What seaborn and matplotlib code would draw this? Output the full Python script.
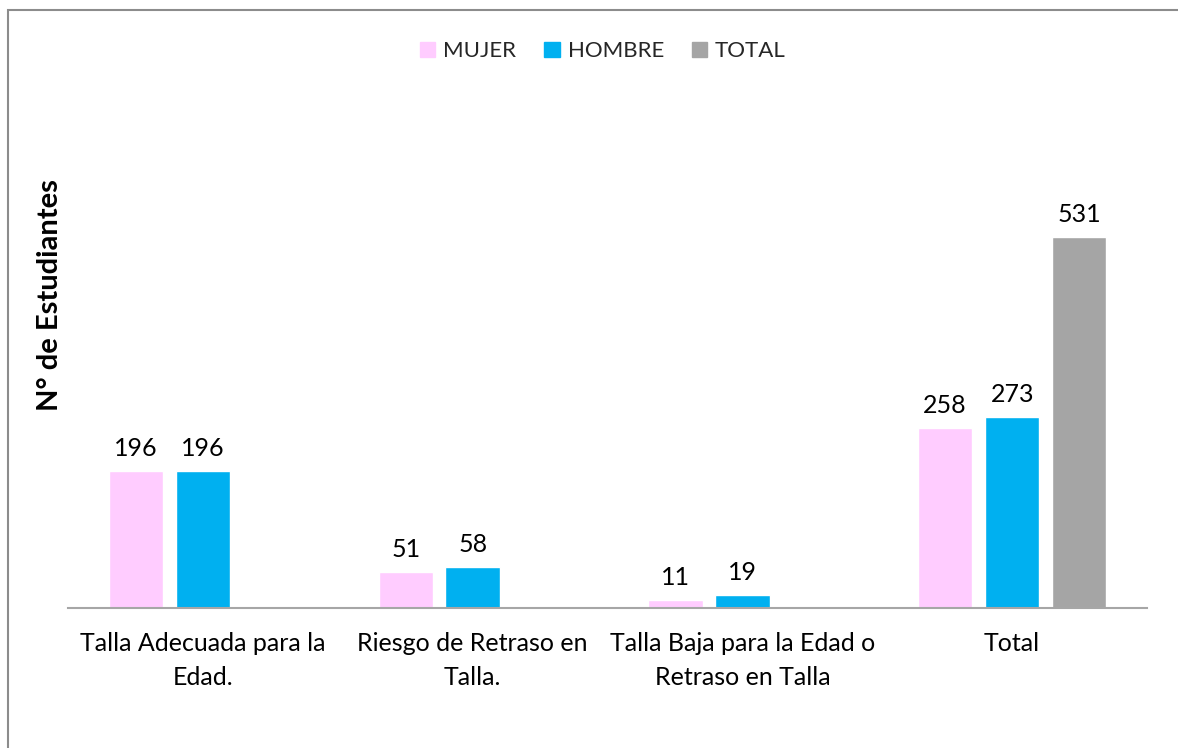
import matplotlib
matplotlib.use("Agg")
import matplotlib.pyplot as plt
import seaborn as sns
import pandas as pd
from matplotlib.patches import Rectangle

categories = ["Talla Adecuada para la\nEdad.", "Riesgo de Retraso en\nTalla.",
              "Talla Baja para la Edad o\nRetraso en Talla", "Total"]
series = ["MUJER", "HOMBRE", "TOTAL"]
mujer = [196, 51, 11, 258]
hombre = [196, 58, 19, 273]
total = [None, None, None, 531]
colors = ["#FFCCFF", "#00B0F0", "#A5A5A5"]

rows = []
for cat, m, h, t in zip(categories, mujer, hombre, total):
    rows.append((cat, "MUJER", m))
    rows.append((cat, "HOMBRE", h))
    if t is not None:
        rows.append((cat, "TOTAL", t))
df = pd.DataFrame(rows, columns=["cat", "serie", "val"])

sns.set_theme(style="white")
plt.rcParams["font.family"] = ["Lato", "DejaVu Sans"]

fig = plt.figure(figsize=(11.78, 7.48), dpi=100)
W, H = 1178, 748
ax = fig.add_axes([68 / W, (H - 608) / H, (1147 - 68) / W, (608 - 100) / H])

sns.barplot(data=df, x="cat", y="val", hue="serie", order=categories, hue_order=series,
            palette=colors, width=0.745, gap=0.19, ax=ax, legend=True, saturation=1)

for c in ax.containers:
    ax.bar_label(c, fmt="%d", padding=8, fontsize=18, color="black")

ax.set_ylim(0, 727)
ax.set_xlim(-0.5, 3.5)
ax.set_yticks([])
ax.set_xlabel("")
ax.set_ylabel("N° de Estudiantes", fontsize=21, fontweight="bold", color="black")
ax.yaxis.set_label_coords(-0.005, (608 - 295) / 508)
for s in ["top", "right", "left"]:
    ax.spines[s].set_visible(False)
ax.spines["bottom"].set_color("#A6A6A6")
ax.spines["bottom"].set_linewidth(1.5)
ax.tick_params(axis="x", length=0, pad=17, labelsize=18, labelcolor="black")
for lbl in ax.get_xticklabels():
    lbl.set_linespacing(1.6)
    lbl.set_verticalalignment("top")

leg = ax.get_legend()
if leg is not None:
    leg.remove()
handles = [Rectangle((0, 0), 1, 1, color=c) for c in colors]
fig.legend(handles, series, loc="center", bbox_to_anchor=(603 / W, 1 - 51 / H), ncol=3,
           frameon=False, fontsize=16, handlelength=0.68, handleheight=0.68,
           handletextpad=0.36, columnspacing=1.26)

border = Rectangle((8 / W, -0.1), 1.2, 1.1 - 10 / H, transform=fig.transFigure,
                   fill=False, edgecolor="#8C8C8C", linewidth=1.5)
fig.patches.append(border)

fig.savefig("out.png", dpi=100)
